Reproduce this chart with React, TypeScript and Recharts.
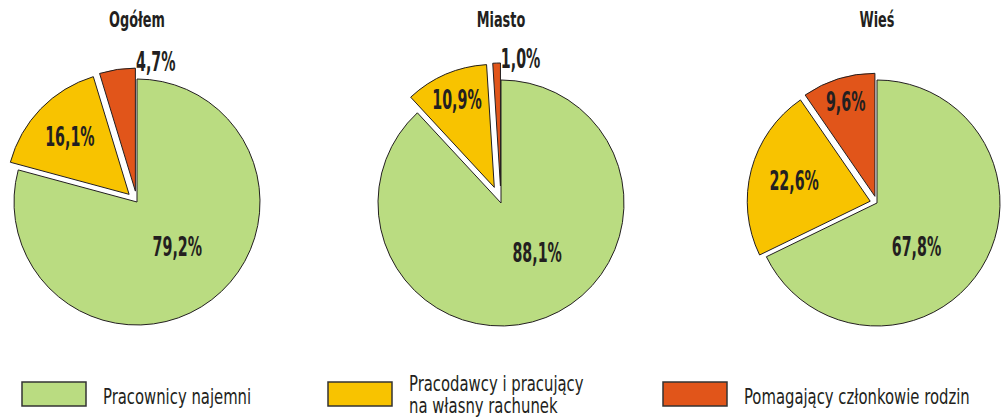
import { PieChart, Pie, Cell } from "recharts";

// Employment status structure: total / urban / rural (percent)
const categories = [
  "Pracownicy najemni",
  "Pracodawcy i pracujący na własny rachunek",
  "Pomagający członkowie rodzin",
];
const legendLines = [
  ["Pracownicy najemni"],
  ["Pracodawcy i pracujący", "na własny rachunek"],
  ["Pomagający członkowie rodzin"],
];
const panelTitles = ["Ogółem", "Miasto", "Wieś"];
const ogolem = [79.2, 16.1, 4.7];
const miasto = [88.1, 10.9, 1.0];
const wies = [67.8, 22.6, 9.6];
const panelValues = [ogolem, miasto, wies];

const colors = ["#badc81", "#f8c300", "#e1551a"];
const INK = "#231f20";
const FONT = "'DejaVu Sans Condensed', 'DejaVu Sans', sans-serif";
const RADIUS = 123;
const RAD = Math.PI / 180;

// where each pie sits, how far the small slices are pulled out, and where labels go
interface LabelSpec {
  r: number;
  angle?: number;
}
const layout: { cx: number; cy: number; explode: number; labels: LabelSpec[] }[] = [
  { cx: 137, cy: 202, explode: 11, labels: [{ r: 0.49, angle: -48 }, { r: 0.67 }, { r: 1.06, angle: 81 }] },
  { cx: 501, cy: 203, explode: 17, labels: [{ r: 0.5, angle: -54 }, { r: 0.77 }, { r: 1.045, angle: 81 }] },
  { cx: 877, cy: 203, explode: 7, labels: [{ r: 0.48, angle: -48 }, { r: 0.64 }, { r: 0.8 }] },
];
const legendX = [22, 328, 663];

const fmt = (v: number) => v.toFixed(1).replace(".", ",") + "%";

function midAngles(values: number[]) {
  const total = values.reduce((a, b) => a + b, 0);
  let acc = 0;
  return values.map((v) => {
    const m = 90 - ((acc + v / 2) / total) * 360;
    acc += v;
    return m;
  });
}

// the original uses a tall condensed face; squeeze DejaVu Condensed horizontally
function NarrowText(props: {
  x: number;
  y: number;
  sx: number;
  size: number;
  bold?: boolean;
  anchor?: "start" | "middle";
  baseline?: "central" | "alphabetic";
  children: React.ReactNode;
}) {
  return (
    <text
      x={0}
      y={0}
      transform={`translate(${props.x} ${props.y}) scale(${props.sx} 1)`}
      textAnchor={props.anchor ?? "start"}
      dominantBaseline={props.baseline ?? "alphabetic"}
      fill={INK}
      fontFamily={FONT}
      fontWeight={props.bold ? "bold" : "normal"}
      fontSize={props.size}
    >
      {props.children}
    </text>
  );
}

function renderLabel(props: any, k: number, spec: LabelSpec) {
  if (props.index !== k) return null;
  const angle = spec.angle ?? props.midAngle;
  const rr = spec.r * props.outerRadius;
  const x = props.cx + rr * Math.cos(angle * RAD);
  const y = props.cy - rr * Math.sin(angle * RAD);
  return (
    <NarrowText key={`lbl-${k}`} x={x} y={y} sx={0.61} size={26} bold anchor="middle" baseline="central">
      {fmt(props.value)}
    </NarrowText>
  );
}

export default function App() {
  return (
    <div style={{ width: 1001, height: 420, background: "#fff" }}>
      <style>{`body{margin:0}`}</style>
      <PieChart width={1001} height={420} margin={{ top: 0, right: 0, bottom: 0, left: 0 }}>
        {panelValues.map((values, p) => {
          const L = layout[p];
          const mids = midAngles(values);
          const rows = values.map((v, i) => ({ name: categories[i], value: v }));
          return values.map((_, k) => {
            const d = k === 0 ? 0 : L.explode;
            const cx = L.cx + d * Math.cos(mids[k] * RAD);
            const cy = L.cy - d * Math.sin(mids[k] * RAD);
            return (
              <Pie
                key={`pie-${p}-${k}`}
                data={rows}
                dataKey="value"
                nameKey="name"
                cx={cx}
                cy={cy}
                innerRadius={0}
                outerRadius={RADIUS}
                startAngle={90}
                endAngle={-270}
                stroke={INK}
                strokeWidth={1}
                labelLine={false}
                label={(props: any) => renderLabel(props, k, L.labels[k])}
                isAnimationActive={false}
              >
                {rows.map((_, i) => (
                  <Cell
                    key={`c-${i}`}
                    fill={i === k ? colors[i] : "none"}
                    stroke={i === k ? INK : "none"}
                  />
                ))}
              </Pie>
            );
          });
        })}

        {panelTitles.map((t, p) => (
          <NarrowText key={`title-${p}`} x={layout[p].cx} y={27} sx={0.65} size={22} bold anchor="middle">
            {t}
          </NarrowText>
        ))}

        {legendLines.map((lines, i) => (
          <g key={`leg-${i}`}>
            <rect
              x={legendX[i]}
              y={382}
              width={64}
              height={24}
              fill={colors[i]}
              stroke="#333"
              strokeWidth={1.5}
            />
            {lines.map((ln, j) => (
              <NarrowText
                key={`lt-${j}`}
                x={legendX[i] + 81}
                y={lines.length === 1 ? 404 : 391 + j * 22}
                sx={0.75}
                size={22}
              >
                {ln}
              </NarrowText>
            ))}
          </g>
        ))}
      </PieChart>
    </div>
  );
}
